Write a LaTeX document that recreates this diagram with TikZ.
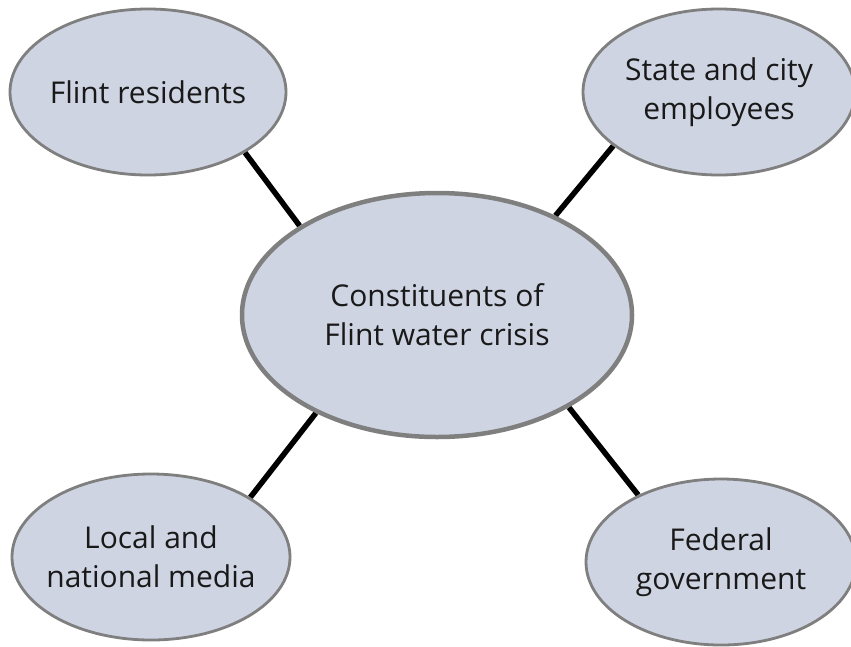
\documentclass[tikz,border=0pt]{standalone}
\usepackage{fontspec}
\setmainfont{Open Sans}
\usetikzlibrary{shapes.geometric,backgrounds}
\definecolor{ellfill}{HTML}{CED4E2}
\definecolor{ellborder}{HTML}{7F7F7F}
\tikzset{
  bubble/.style={ellipse, draw=ellborder, fill=ellfill, line width=2.8pt, inner ysep=0pt, inner xsep=-40pt,
    align=center, font=\fontsize{30}{39}\selectfont, text=black!90},
  hub/.style={bubble, line width=4.5pt},
  link/.style={line width=5.5pt, black}
}
\begin{document}
\begin{tikzpicture}[x=1pt,y=-1pt]
\useasboundingbox (0,0) rectangle (851,646);
\node[hub, minimum width=390pt, minimum height=244pt] (c) at (437,315) {Constituents of\\Flint water crisis};
\node[bubble, minimum width=276pt, minimum height=166pt] (fr) at (148,92) {Flint residents};
\node[bubble, minimum width=272pt, minimum height=166pt] (sc) at (719,92) {State and city\\employees};
\node[bubble, minimum width=278pt, minimum height=166pt] (lm) at (151,557) {Local and\\national media};
\node[bubble, minimum width=270pt, minimum height=166pt] (fg) at (721,562) {Federal\\government};
\begin{scope}[on background layer]
\fill[white] (0,0) rectangle (851,646);
\draw[link] (fr.-32.7) -- (c.147);
\draw[link] (sc.-153) -- (c.40);
\draw[link] (lm.31) -- (c.-141);
\draw[link] (fg.141) -- (c.-35);
\end{scope}
\end{tikzpicture}
\end{document}
